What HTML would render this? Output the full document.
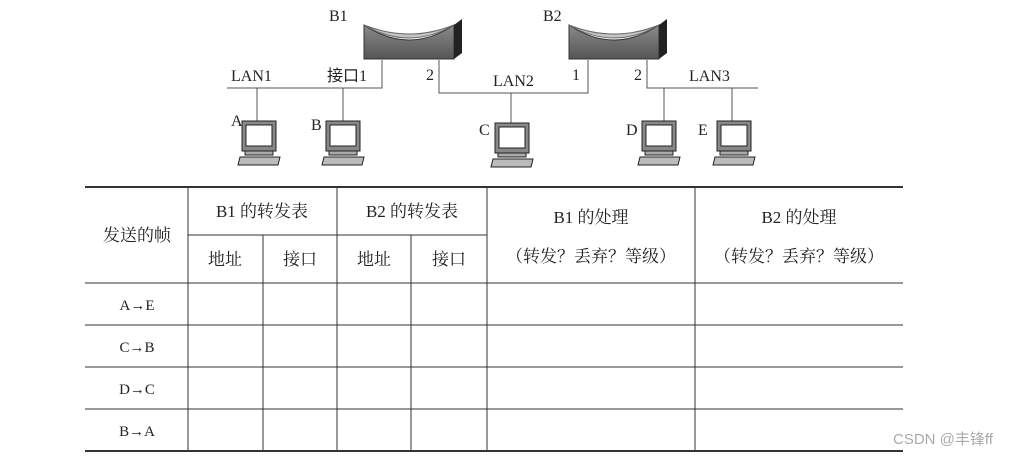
<!DOCTYPE html>
<html><head><meta charset="utf-8"><style>
body{margin:0;background:#fff;}
svg{display:block;}
text{font-family:"Liberation Serif","Noto Serif CJK SC",serif;fill:#222;}
.c{font-family:"Liberation Serif","Noto Sans CJK SC",sans-serif;font-size:17px;}
</style></head><body>
<svg width="1025" height="456" viewBox="0 0 1025 456">
<defs>
<linearGradient id="br" x1="0" y1="0" x2="0" y2="1"><stop offset="0" stop-color="#8a8a8a"/><stop offset="1" stop-color="#555"/></linearGradient>
<g id="pc">
<rect x="4" y="0" width="34" height="30" fill="#888" stroke="#222"/>
<rect x="8" y="4" width="26" height="21" fill="#fff" stroke="#222"/>
<rect x="7" y="30" width="28" height="4" fill="#aaa" stroke="#222"/>
<path d="M2 36 H42 L40 44 H0 Z" fill="#bbb" stroke="#222"/>
</g>
<g id="bridge">
<path d="M0 6 Q45 36 90 6 L90 40 L0 40 Z" fill="url(#br)" stroke="#333"/>
<path d="M0 6 Q45 32 90 6 Q45 24 0 6Z" fill="#c4c4c4" stroke="#666"/>
<path d="M90 6 L98 0 L98 34 L90 40 Z" fill="#222"/>
</g>
</defs>
<g stroke="#555" stroke-width="1" fill="none">
<path d="M227 88 H382 V60"/>
<path d="M439 60 V93 H588 V60"/>
<path d="M647 60 V88 H758"/>
<path d="M257 88 V121"/><path d="M343 88 V121"/><path d="M511 93 V123"/><path d="M664 88 V121"/><path d="M732 88 V121"/>
</g>
<use href="#bridge" x="364" y="19"/>
<use href="#bridge" x="569" y="19"/>
<use href="#pc" x="238" y="121"/>
<use href="#pc" x="322" y="121"/>
<use href="#pc" x="491" y="123"/>
<use href="#pc" x="638" y="121"/>
<use href="#pc" x="713" y="121"/>
<g font-size="16">
<text x="329" y="21">B1</text><text x="543" y="21">B2</text>
<text x="231" y="81">LAN1</text><text x="327" y="81" class="c" style="font-size:16px">接口1</text>
<text x="426" y="80">2</text><text x="493" y="86">LAN2</text><text x="572" y="80">1</text>
<text x="634" y="80">2</text><text x="689" y="81">LAN3</text>
<text x="231" y="126">A</text><text x="311" y="130">B</text><text x="479" y="135">C</text><text x="626" y="135">D</text><text x="698" y="135">E</text>
</g>
<g stroke="#333" fill="none">
<path d="M85 187 H903" stroke-width="2"/>
<path d="M188 235 H487" stroke-width="1"/>
<path d="M85 283 H903 M85 325 H903 M85 367 H903 M85 409 H903"/>
<path d="M85 451 H903" stroke-width="2"/>
<path d="M188 187 V451 M337 187 V451 M487 187 V451 M695 187 V451 M263 235 V451 M411 235 V451"/>
</g>
<g class="c" text-anchor="middle">
<text x="137" y="241">发送的帧</text>
<text x="262" y="217">B1 的转发表</text><text x="412" y="217">B2 的转发表</text>
<text x="225" y="265">地址</text><text x="300" y="265">接口</text><text x="374" y="265">地址</text><text x="449" y="265">接口</text>
<text x="591" y="223">B1 的处理</text><text x="591" y="262">（转发？丢弃？等级）</text>
<text x="799" y="223">B2 的处理</text><text x="799" y="262">（转发？丢弃？等级）</text>
<text x="137" y="310" font-size="15">A→E</text><text x="137" y="352" font-size="15">C→B</text>
<text x="137" y="394" font-size="15">D→C</text><text x="137" y="436" font-size="15">B→A</text>
</g>
<text x="893" y="444" style="font-family:'Liberation Sans','Noto Sans CJK SC',sans-serif;font-size:15px;fill:#aaa">CSDN @丰锋ff</text>
</svg>
</body></html>
